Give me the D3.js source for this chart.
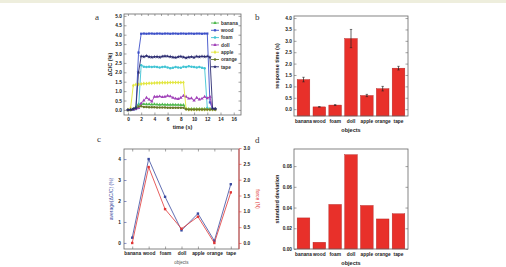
<!DOCTYPE html>
<html>
<head>
<meta charset="utf-8">
<script src="https://cdn.jsdelivr.net/npm/d3@7"></script>
<style>
  body { margin: 0; background: #fff; }
  svg { display: block; font-family: "Liberation Sans", Arial, sans-serif; }
  .tick text { font-size: 4.8px; font-weight: bold; fill: #222; }
  .lab { font-size: 5.5px; font-weight: bold; fill: #222; }
  .letter { font-family: "Liberation Serif", serif; font-size: 9px; fill: #333; }
</style>
</head>
<body>
<div id="chart"></div>
<script>
// ---- data ----
let time = [0, 0.4, 0.8, 1.2, 1.6, 2.0, 2.4, 2.8, 3.2, 3.6, 4.0, 4.4, 4.8, 5.2, 5.6, 6.0, 6.4,
    6.8, 7.2, 7.6, 8.0, 8.4, 8.8, 9.2, 9.6, 10.0, 10.4, 10.8, 11.2, 11.6, 12.0, 12.4, 12.8, 13.2];

let banana = [0, 0, 0.05, 0.15, 0.30, 0.32, 0.31, 0.30, 0.30, 0.29, 0.30, 0.29, 0.28, 0.29, 0.28, 0.28,
    0.27, 0.28, 0.27, 0.27, 0.26, 0.26, 0.06, 0.05, 0.05, 0.05, 0.05, 0.05, 0.05, 0.05, 0.05, 0.05, 0.05, 0.05];
let wood = [0, 0, 0.02, 0.05, 3.05, 4.05, 4.06, 4.05, 4.06, 4.06, 4.05, 4.06, 4.06, 4.05, 4.06, 4.06,
    4.05, 4.06, 4.06, 4.05, 4.06, 4.06, 4.05, 4.06, 4.06, 4.05, 4.06, 4.06, 4.05, 4.06, 4.06, 0.40, 0.05, 0.05];
let foam = [0, 0, 0.02, 0.05, 0.10, 2.38, 2.30, 2.28, 2.30, 2.28, 2.30, 2.28, 2.25, 2.28, 2.30, 2.26,
    2.22, 2.24, 2.28, 2.26, 2.24, 2.30, 2.28, 2.32, 2.30, 2.28, 2.26, 2.28, 2.24, 2.22, 0.10, 0.05, 0.05, 0.05];
let doll = [0, 0, 0.02, 0.05, 0.10, 0.35, 0.50, 0.65, 0.55, 0.45, 0.70, 0.70, 0.72, 0.68, 0.70, 0.75,
    0.72, 0.65, 0.60, 0.58, 0.65, 0.75, 0.70, 0.60, 0.62, 0.50, 0.65, 0.55, 0.60, 0.70, 0.62, 0.70, 0.05, 0.05];
let apple = [0, 0.10, 1.30, 1.35, 1.36, 1.38, 1.40, 1.40, 1.42, 1.42, 1.43, 1.44, 1.44, 1.45, 1.45, 1.45,
    1.46, 1.46, 1.46, 1.46, 1.46, 1.46, 0.05, 0.02, 0.02, 0.02, 0.02, 0.02, 0.02, 0.02, 0.02, 0.02, 0.02, 0.02];
let orange = [0, 0, 0.05, 0.10, 0.18, 0.20, 0.16, 0.15, 0.14, 0.14, 0.14, 0.13, 0.13, 0.13, 0.13, 0.12,
    0.12, 0.12, 0.12, 0.12, 0.12, 0.12, 0.03, 0.02, 0.02, 0.02, 0.02, 0.02, 0.02, 0.02, 0.02, 0.02, 0.02, 0.02];
let tape = [0, 0.02, 0.05, 0.10, 2.00, 2.85, 2.83, 2.87, 2.82, 2.80, 2.82, 2.83, 2.80, 2.84, 2.86, 2.85,
    2.83, 2.80, 2.78, 2.82, 2.84, 2.80, 2.77, 2.80, 2.82, 2.79, 2.84, 2.82, 2.85, 2.83, 2.85, 2.80, 0.08, 0.05];

let objects = ["banana", "wood", "foam", "doll", "apple", "orange", "tape"];
let responseTime = [1.3, 0.1, 0.18, 3.1, 0.6, 0.9, 1.8];
let responseErr = [0.1, 0.01, 0.02, 0.4, 0.05, 0.1, 0.08];
let avgDC = [0.25, 4.0, 2.2, 0.6, 1.4, 0.1, 2.8];
let force = [0.0, 2.4, 1.07, 0.45, 0.83, 0.0, 1.6];
let stdDev = [0.030, 0.0065, 0.043, 0.091, 0.042, 0.029, 0.034];

let series = [
    {name: "banana", values: banana, color: "#4cb84c", symbol: d3.symbolTriangle},
    {name: "wood", values: wood, color: "#3c4fc8", symbol: d3.symbolSquare},
    {name: "foam", values: foam, color: "#40c4d4", symbol: d3.symbolCircle},
    {name: "doll", values: doll, color: "#a040b8", symbol: d3.symbolTriangle},
    {name: "apple", values: apple, color: "#e2e640", symbol: d3.symbolDiamond},
    {name: "orange", values: orange, color: "#687828", symbol: d3.symbolCircle},
    {name: "tape", values: tape, color: "#2a2a70", symbol: d3.symbolStar}
];

let W = 506, H = 267;
let svg = d3.select("#chart").append("svg").attr("width", W).attr("height", H);

svg.append("rect").attr("width", W).attr("height", 3).attr("fill", "#eeeedd");

// plot frame
function frame(g, x0, x1, y0, y1) {
    g.append("rect").attr("x", x0).attr("y", y0).attr("width", x1 - x0).attr("height", y1 - y0)
        .attr("fill", "none").attr("stroke", "#666").attr("stroke-width", 0.8);
}

function styleAxis(a, color) {
    a.select(".domain").remove();
    a.selectAll(".tick line").attr("stroke", color || "#666").attr("stroke-width", 0.6);
    a.selectAll(".tick text").attr("fill", color || "#222");
}

function letter(t, x, y) {
    svg.append("text").attr("class", "letter").attr("x", x).attr("y", y).text(t);
}

// ---- panel a ----
(function () {
    let x0 = 124, x1 = 241, y0 = 14, y1 = 115;
    let x = d3.scaleLinear().domain([-0.6, 17.1]).range([x0, x1]);
    let y = d3.scaleLinear().domain([-0.27, 5.1]).range([y1, y0]);
    let g = svg.append("g");

    series.forEach(function (s) {
        let pts = time.map(function (t, i) { return [t, s.values[i]]; });
        g.append("path").datum(pts)
            .attr("fill", "none").attr("stroke", s.color).attr("stroke-width", 0.9)
            .attr("d", d3.line().x(d => x(d[0])).y(d => y(d[1])));
        g.selectAll(null).data(pts).enter().append("path")
            .attr("transform", d => "translate(" + x(d[0]) + "," + y(d[1]) + ")")
            .attr("d", d3.symbol().type(s.symbol).size(5))
            .attr("fill", s.color);
    });

    frame(g, x0, x1, y0, y1);
    let ax = g.append("g").attr("transform", "translate(0," + y1 + ")")
        .call(d3.axisBottom(x).tickValues(d3.range(0, 17, 2)).tickFormat(d3.format("d")).tickSize(-2.5).tickPadding(3));
    styleAxis(ax);
    let ay = g.append("g").attr("transform", "translate(" + x0 + ",0)")
        .call(d3.axisLeft(y).tickValues(d3.range(0, 5.01, 0.5)).tickFormat(d3.format(".1f")).tickSize(-2.5).tickPadding(2));
    styleAxis(ay);
    g.append("g").attr("transform", "translate(" + x1 + ",0)")
        .call(d3.axisRight(y).tickValues(d3.range(0, 5.01, 0.5)).tickSize(-2.5).tickFormat(""))
        .call(styleAxis);
    g.append("g").attr("transform", "translate(0," + y0 + ")")
        .call(d3.axisTop(x).tickValues(d3.range(0, 17, 1)).tickSize(-2).tickFormat(""))
        .call(styleAxis);

    // legend
    let leg = g.append("g").attr("transform", "translate(211,23)");
    series.forEach(function (s, i) {
        let r = leg.append("g").attr("transform", "translate(0," + i * 7.3 + ")");
        r.append("line").attr("x1", 0).attr("x2", 8).attr("stroke", s.color).attr("stroke-width", 0.9);
        r.append("path").attr("transform", "translate(4,0)")
            .attr("d", d3.symbol().type(s.symbol).size(5)).attr("fill", s.color);
        r.append("text").attr("x", 10).attr("y", 1.8).attr("font-size", 4.8).attr("font-weight", "bold")
            .attr("fill", "#333").text(s.name);
    });

    g.append("text").attr("class", "lab").attr("transform", "translate(112," + (y0 + y1) / 2 + ") rotate(-90)")
        .attr("text-anchor", "middle").text("ΔC/C (%)");
    g.append("text").attr("class", "lab").attr("x", (x0 + x1) / 2).attr("y", 129)
        .attr("text-anchor", "middle").text("time (s)");
    letter("a", 95, 20);
})();

// bar chart helper for panels b and d
function barPanel(vals, errs, yDomain, ticks, fmt, y0, y1, ylabel, lblY) {
    let x0 = 294, x1 = 408;
    let x = d3.scaleBand().domain(objects).range([x0, x1]).padding(0.2);
    let y = d3.scaleLinear().domain(yDomain).range([y1, y0]);
    let g = svg.append("g");

    g.selectAll(".bar").data(objects).enter().append("rect")
        .attr("class", "bar")
        .attr("x", d => x(d)).attr("width", x.bandwidth())
        .attr("y", (d, i) => y(vals[i])).attr("height", (d, i) => y1 - y(vals[i]))
        .attr("fill", "#e8302a").attr("stroke", "#b02020").attr("stroke-width", 0.4);

    if (errs) {
        objects.forEach(function (d, i) {
            let cx = x(d) + x.bandwidth() / 2;
            g.append("line").attr("x1", cx).attr("x2", cx)
                .attr("y1", y(vals[i] - errs[i])).attr("y2", y(vals[i] + errs[i]))
                .attr("stroke", "#222").attr("stroke-width", 0.7);
            [vals[i] - errs[i], vals[i] + errs[i]].forEach(function (v) {
                g.append("line").attr("x1", cx - 1.2).attr("x2", cx + 1.2).attr("y1", y(v)).attr("y2", y(v))
                    .attr("stroke", "#222").attr("stroke-width", 0.6);
            });
        });
    }

    frame(g, x0, x1, y0, y1);
    let ay = g.append("g").attr("transform", "translate(" + x0 + ",0)")
        .call(d3.axisLeft(y).tickValues(ticks).tickFormat(d3.format(fmt)).tickSize(-2.5).tickPadding(2));
    styleAxis(ay);
    g.append("g").attr("transform", "translate(" + x1 + ",0)")
        .call(d3.axisRight(y).tickValues(ticks).tickSize(-2.5).tickFormat(""))
        .call(styleAxis);
    let ax = g.append("g").attr("transform", "translate(0," + y1 + ")")
        .call(d3.axisBottom(x).tickSize(0).tickPadding(4));
    styleAxis(ax);

    g.append("text").attr("class", "lab").attr("transform", "translate(279," + (y0 + y1) / 2 + ") rotate(-90)")
        .attr("text-anchor", "middle").text(ylabel);
    g.append("text").attr("class", "lab").attr("x", (x0 + x1) / 2).attr("y", lblY)
        .attr("text-anchor", "middle").text("objects");
}

// ---- panel b ----
barPanel(responseTime, responseErr, [-0.3, 4.09], d3.range(0, 4.01, 0.5), ".1f", 16, 116, "response time (s)", 132);
letter("b", 255, 20);

// ---- panel d ----
barPanel(stdDev, null, [0, 0.0965], d3.range(0, 0.081, 0.02), ".2f", 149, 249, "standard deviation", 265);
letter("d", 255, 143);

// ---- panel c ----
(function () {
    let x0 = 124, x1 = 239, y0 = 149, y1 = 249;
    let blue = "#3a4aa0", red = "#e03535";
    let x = d3.scalePoint().domain(objects).range([x0, x1]).padding(0.5);
    let yL = d3.scaleLinear().domain([-0.29, 4.48]).range([y1, y0]);
    let yR = d3.scaleLinear().domain([-0.19, 2.97]).range([y1, y0]);
    let g = svg.append("g");

    [[avgDC, yL, blue], [force, yR, red]].forEach(function (s) {
        let vals = s[0], sc = s[1], col = s[2];
        g.append("path").datum(objects)
            .attr("fill", "none").attr("stroke", col).attr("stroke-width", 0.8)
            .attr("d", d3.line().x(d => x(d)).y((d, i) => sc(vals[i])));
        g.selectAll(null).data(objects).enter().append("rect")
            .attr("x", d => x(d) - 1.2).attr("y", (d, i) => sc(vals[i]) - 1.2)
            .attr("width", 2.4).attr("height", 2.4).attr("fill", col);
    });

    frame(g, x0, x1, y0, y1);
    let ay = g.append("g").attr("transform", "translate(" + x0 + ",0)")
        .call(d3.axisLeft(yL).tickValues([0, 1, 2, 3, 4]).tickFormat(d3.format("d")).tickSize(-2.5).tickPadding(3));
    styleAxis(ay, blue);
    let ar = g.append("g").attr("transform", "translate(" + x1 + ",0)")
        .call(d3.axisRight(yR).tickValues(d3.range(0, 3.01, 0.5)).tickFormat(d3.format(".1f")).tickSize(2.5).tickPadding(2));
    styleAxis(ar, red);
    ar.append("line").attr("y1", y0).attr("y2", y1).attr("stroke", red).attr("stroke-width", 0.8);
    let ax = g.append("g").attr("transform", "translate(0," + y1 + ")")
        .call(d3.axisBottom(x).tickSize(-2.5).tickPadding(3));
    styleAxis(ax);
    g.append("g").attr("transform", "translate(0," + y0 + ")")
        .call(d3.axisTop(x).tickSize(-2.5).tickFormat(""))
        .call(styleAxis);

    g.append("text").attr("transform", "translate(113," + (y0 + y1) / 2 + ") rotate(-90)")
        .attr("text-anchor", "middle").attr("font-size", 5).attr("fill", blue).text("average(ΔC/C) (%)");
    g.append("text").attr("transform", "translate(256," + (y0 + y1) / 2 + ") rotate(90)")
        .attr("text-anchor", "middle").attr("font-size", 5).attr("fill", red).text("force (N)");
    g.append("text").attr("x", (x0 + x1) / 2).attr("y", 264).attr("text-anchor", "middle")
        .attr("font-size", 4.5).attr("fill", "#555").text("objects");
    letter("c", 97, 142);
})();
</script>
</body>
</html>
